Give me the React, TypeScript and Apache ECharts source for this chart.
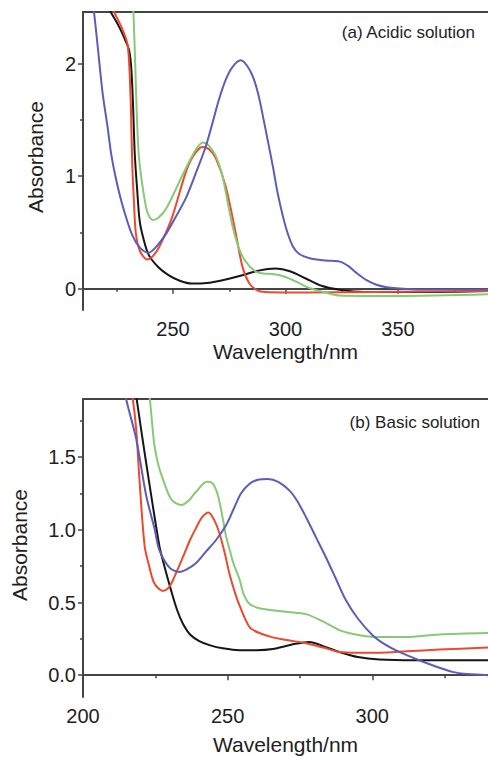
import { useEffect, useRef } from "react";
import * as echarts from "echarts";

// ---------- Panel (a): acidic solution, [wavelength nm, absorbance] ----------
const acidBlack = [
  [219, 2.58], [222.3, 2.46], [226, 2.33], [229, 2.2], [230.5, 2.12], [231.5, 1.95],
  [232.3, 1.6], [233, 1.2], [234, 0.9], [235.2, 0.6], [236.8, 0.45], [239.2, 0.3],
  [243.5, 0.19], [248, 0.12], [253, 0.07], [258.4, 0.045], [265, 0.05], [272, 0.075],
  [280, 0.115], [288, 0.16], [295.6, 0.178], [302, 0.155], [309, 0.09], [316, 0.025],
  [324, -0.01], [335, -0.03], [360, -0.03], [390, -0.02],
];
const acidRed = [
  [221, 2.58], [223.8, 2.46], [227, 2.33], [229.7, 2.18], [230.6, 1.97], [231.3, 1.6],
  [231.9, 1.1], [232.7, 0.75], [233.5, 0.49], [235.4, 0.33], [238.6, 0.26], [242.3, 0.32],
  [246, 0.46], [249.7, 0.64], [255.6, 1.03], [259, 1.18], [263, 1.26], [266, 1.24],
  [269, 1.16], [273.4, 0.91], [277.9, 0.49], [280.8, 0.2], [283.8, 0.05], [287, -0.01],
  [291, -0.03], [310, -0.035], [340, -0.03], [390, -0.02],
];
const acidGreen = [
  [231.8, 2.6], [232.4, 2.46], [233.2, 2.0], [234, 1.5], [235, 1.14], [237.4, 0.79],
  [239, 0.66], [241.2, 0.61], [243.5, 0.63], [246.6, 0.7], [250, 0.83], [254, 1.0],
  [258, 1.16], [261, 1.26], [263.3, 1.3], [266, 1.27], [269, 1.18], [272, 1.0],
  [276.2, 0.58], [279.3, 0.36], [282.3, 0.24], [286.8, 0.15], [290, 0.135], [294, 0.13],
  [299, 0.11], [304.5, 0.065], [310, 0.01], [315, -0.02], [323.8, -0.06], [350, -0.065],
  [390, -0.05],
];
const acidBlue = [
  [213.5, 2.62], [214.8, 2.47], [216.4, 2.18], [218.7, 1.74], [220.9, 1.44], [222.5, 1.2],
  [224.4, 1.0], [227.3, 0.76], [231.8, 0.48], [235.5, 0.36], [239.2, 0.32], [242, 0.36],
  [246.7, 0.48], [251, 0.63], [255.6, 0.8], [260, 1.02], [264.5, 1.26], [267.5, 1.47],
  [270.4, 1.68], [273.5, 1.86], [276.4, 1.97], [280.1, 2.03],
  [283, 1.98], [285.6, 1.88], [288, 1.72], [290, 1.53], [292, 1.33], [294.4, 1.085],
  [296.5, 0.85], [298.9, 0.64], [301, 0.49], [303.3, 0.375], [306, 0.31], [310.7, 0.27],
  [318, 0.25], [324.1, 0.24], [328, 0.2], [331.5, 0.14], [336, 0.075], [340.4, 0.035],
  [345, 0.012], [349.3, 0.003], [360, -0.008], [390, -0.008],
];

// ---------- Panel (b): basic solution ----------
const basicBlack = [
  [216.5, 2.15], [218.4, 1.92], [220.1, 1.69], [221.8, 1.465], [224.1, 1.17], [226.4, 0.89],
  [228, 0.76], [230.5, 0.58], [232.5, 0.45], [234.5, 0.355], [237, 0.28], [240.2, 0.235],
  [244, 0.205], [248.3, 0.185], [254.1, 0.172], [260, 0.172], [265.6, 0.18], [272, 0.21],
  [278.3, 0.229], [283, 0.2], [288.6, 0.16], [295, 0.125], [302.4, 0.108], [315, 0.103],
  [340, 0.103],
];
const basicRed = [
  [215.5, 2.1], [217.2, 1.9], [218.4, 1.69], [219.5, 1.35], [221.3, 0.89], [223, 0.74],
  [224.7, 0.63], [227.6, 0.58], [229.5, 0.6], [231, 0.65], [234.5, 0.81], [237, 0.93],
  [239, 1.01], [241.3, 1.09], [243.4, 1.12], [245.3, 1.07], [247.1, 0.98], [249, 0.84],
  [250.6, 0.7], [252.5, 0.57], [254.1, 0.48], [257.6, 0.33], [261, 0.29], [265.6, 0.26],
  [271, 0.24], [277.1, 0.22], [283, 0.19], [288.6, 0.16], [295, 0.155], [302.4, 0.155],
  [312, 0.165], [323.1, 0.176], [340, 0.19],
];
const basicGreen = [
  [221.5, 2.15], [223, 1.92], [224.1, 1.69], [224.7, 1.58], [226, 1.45], [227.6, 1.35],
  [230.5, 1.21], [233.9, 1.17], [236.5, 1.2], [239, 1.26], [242.8, 1.33], [244.8, 1.32],
  [246.6, 1.24], [248.3, 1.08], [249.4, 0.96], [250.6, 0.87], [252, 0.77], [254.1, 0.66],
  [255.5, 0.56], [257.6, 0.49], [261, 0.46], [265.6, 0.446], [271, 0.435], [277.1, 0.42],
  [282.9, 0.37], [288.6, 0.31], [293, 0.285], [297.8, 0.268], [304, 0.262], [311.6, 0.263],
  [323.1, 0.28], [340, 0.29],
];
const basicBlue = [
  [213, 2.1], [214.9, 1.9], [218.4, 1.625], [221.8, 1.24], [224.7, 1.01], [226.4, 0.86],
  [229.9, 0.74], [233.3, 0.71], [236, 0.73], [239, 0.77], [242.5, 0.85], [246, 0.93],
  [249.4, 1.03], [252, 1.14], [254.6, 1.25], [257.6, 1.317], [260.5, 1.345], [263.9, 1.35],
  [267.5, 1.33], [271.4, 1.27], [274, 1.2], [277.1, 1.087], [280.5, 0.95], [284, 0.81],
  [287.5, 0.66], [290.9, 0.515], [295, 0.39], [300.1, 0.275], [304.5, 0.21], [309.3, 0.16],
  [316.2, 0.103], [322, 0.06], [327.7, 0.023], [333, 0.008], [340, 0.0],
];

// ---------- Axes ----------
const acidXRange = [210, 390];
const acidYRange = [-0.19, 2.46];
const acidXTicks = [250, 300, 350];
const acidXMinor = [225, 275, 325, 375];
const acidYTicks = [0, 1, 2];
const acidYMinor = [0.5, 1.5];

const basicXRange = [200, 340];
const basicYRange = [-0.15, 1.9];
const basicXTicks = [200, 250, 300];
const basicXMinor = [225, 275, 325];
const basicYTicks = [0, 0.5, 1.0, 1.5];
const basicYMinor = [0.25, 0.75, 1.25, 1.75];

const xName = "Wavelength/nm";
const yName = "Absorbance";
const acidTitle = "(a) Acidic solution";
const basicTitle = "(b) Basic solution";

const COLORS = { black: "#161616", red: "#ea4a2e", green: "#88c976", blue: "#5b5db8" };
const FONT = "'Liberation Sans', Arial, Helvetica, sans-serif";
const TXT = "#1e1e1e";
const AXIS = "#444444";

export default function App() {
  const ref = useRef<HTMLDivElement>(null);

  useEffect(() => {
    if (!ref.current) return;
    const chart = echarts.init(ref.current, null, { renderer: "svg" });

    const grids = [
      { left: 83, top: 12, width: 405, height: 298 },
      { left: 83, top: 399, width: 405, height: 298 },
    ];

    const mkX = (g: number, range: number[], ticks: number[], minor: number[]) => [
      {
        type: "value", gridIndex: g, position: "bottom", min: range[0], max: range[1],
        axisLine: { show: true, lineStyle: { color: AXIS, width: 2 } },
        axisTick: { show: true, customValues: ticks, length: 5, lineStyle: { color: AXIS, width: 1.5 } },
        axisLabel: { show: true, customValues: ticks, margin: 9, fontSize: 20, color: TXT, fontFamily: FONT },
        splitLine: { show: false },
      },
      {
        type: "value", gridIndex: g, position: "bottom", min: range[0], max: range[1],
        axisLine: { show: false },
        axisTick: { show: true, customValues: minor, length: 3, lineStyle: { color: AXIS, width: 1.5 } },
        axisLabel: { show: false },
        splitLine: { show: false },
      },
      {
        type: "value", gridIndex: g, position: "top", min: range[0], max: range[1],
        axisLine: { show: true, lineStyle: { color: AXIS, width: 2 } },
        axisTick: { show: false },
        axisLabel: { show: false },
        splitLine: { show: false },
      },
    ];

    const mkY = (g: number, range: number[], ticks: number[], minor: number[], dec: number) => [
      {
        type: "value", gridIndex: g, position: "left", min: range[0], max: range[1],
        axisLine: { show: true, lineStyle: { color: AXIS, width: 2 } },
        axisTick: { show: true, customValues: ticks, length: 5, lineStyle: { color: AXIS, width: 1.5 } },
        axisLabel: {
          show: true, customValues: ticks, margin: 7, fontSize: 20, color: TXT, fontFamily: FONT,
          formatter: (v: number) => v.toFixed(dec),
        },
        splitLine: { show: false },
      },
      {
        type: "value", gridIndex: g, position: "left", min: range[0], max: range[1],
        axisLine: { show: false },
        axisTick: { show: true, customValues: minor, length: 3, lineStyle: { color: AXIS, width: 1.5 } },
        axisLabel: { show: false },
        splitLine: { show: false },
      },
    ];

    const xAxis = [
      ...mkX(0, acidXRange, acidXTicks, acidXMinor),
      ...mkX(1, basicXRange, basicXTicks, basicXMinor),
    ];
    const yAxis = [
      ...mkY(0, acidYRange, acidYTicks, acidYMinor, 0),
      ...mkY(1, basicYRange, basicYTicks, basicYMinor, 1),
    ];

    const mkS = (name: string, data: number[][], color: string, xi: number, yi: number) => ({
      name, type: "line", data, xAxisIndex: xi, yAxisIndex: yi,
      smooth: 0.3, showSymbol: false, symbol: "none", clip: true,
      lineStyle: { color, width: 2 }, itemStyle: { color },
    });

    const series = [
      mkS("acid-black", acidBlack, COLORS.black, 0, 0),
      mkS("acid-red", acidRed, COLORS.red, 0, 0),
      mkS("acid-green", acidGreen, COLORS.green, 0, 0),
      mkS("acid-blue", acidBlue, COLORS.blue, 0, 0),
      mkS("basic-black", basicBlack, COLORS.black, 3, 2),
      mkS("basic-red", basicRed, COLORS.red, 3, 2),
      mkS("basic-green", basicGreen, COLORS.green, 3, 2),
      mkS("basic-blue", basicBlue, COLORS.blue, 3, 2),
    ];

    const txt = (text: string, x: number, y: number, size: number, align: string, rot = 0) => ({
      type: "text", x, y, rotation: rot,
      style: { text, fontSize: size, fontFamily: FONT, fill: TXT, align, verticalAlign: "middle" },
    });

    chart.setOption({
      animation: false,
      backgroundColor: "#ffffff",
      grid: grids,
      xAxis,
      yAxis,
      series,
      graphic: [
        txt(acidTitle, 475, 32, 17, "right"),
        txt(basicTitle, 480, 422, 17, "right"),
        txt(xName, 285.5, 351, 21, "center"),
        txt(xName, 285.5, 744, 21, "center"),
        txt(yName, 35, 157, 21, "center", Math.PI / 2),
        txt(yName, 19.5, 545, 21, "center", Math.PI / 2),
      ],
    });

    return () => chart.dispose();
  }, []);

  return (
    <div
      ref={ref}
      style={{ position: "fixed", left: 0, top: 0, width: 488, height: 757, background: "#fff" }}
    />
  );
}
